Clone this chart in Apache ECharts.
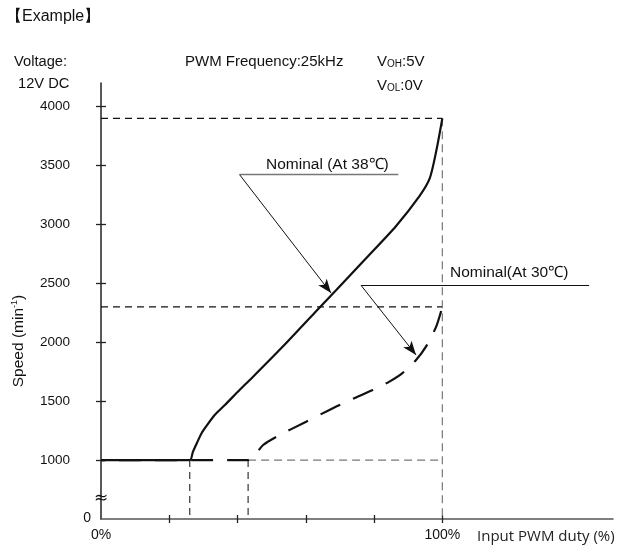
<!DOCTYPE html>
<html><head><meta charset="utf-8">
<script src="https://cdn.jsdelivr.net/npm/echarts@6/dist/echarts.min.js"></script>
<style>html,body{margin:0;padding:0;background:#fff}#c{width:619px;height:547px}</style>
</head><body><div id="c"></div>
<script>
// ---- data ----
const yTickValues = [1000, 1500, 2000, 2500, 3000, 3500, 4000];
const xTickValues = [20, 40, 60, 80, 100];
const xLabelValues = [0, 100];
const curve38 = [[0,1000],[26,1000],[26.9,1068],[28.1,1145],[29.5,1230],[31.3,1306],[33.3,1383],[36.3,1468],[40.6,1595],[44.2,1697],[53.2,1961],[62.6,2250],[69,2445],[77.8,2717],[86.4,2985],[93.3,3240],[96.3,3390],[98.2,3620],[100,3900]];
const curve30 = [[0,1000],[43.1,1000],[47.5,1128],[51.4,1198],[60.1,1326],[69.9,1468],[79.6,1595],[84.5,1666],[88.4,1740],[92.3,1850],[95.2,1963],[98.2,2133],[100,2300]];
const ref3900 = [[0,3900],[100,3900]];
const ref2300 = [[0,2300],[100,2300]];
const ref1000 = [[43.1,1000],[100,1000]];
const vref100 = [[100,3900],[100,500]];
const vref26 = [[26,1000],[26,500]];
const vref43 = [[43.1,1000],[43.1,500]];
const ann38 = {start:[40.6,3422], end:[87.1,3422], tip:[67.4,2417]};
const ann30 = {start:[76.2,2482], end:[143,2482], tip:[92.3,1892]};

const FONT = "'Liberation Sans', Arial, sans-serif";
const chart = echarts.init(document.getElementById('c'));

function refSeries(data, color, labelText, dash) {
  const d = data.map((p, i) => {
    if (labelText && i === data.length - 1) {
      return {value: p, label: {show: true, position: 'right', distance: 8, formatter: labelText,
        color: '#111', fontSize: 14, fontFamily: FONT}};
    }
    return p;
  });
  return {type: 'line', data: d, symbol: 'none', silent: true, animation: false,
    lineStyle: {color: color, width: 1.2, type: dash || [6, 4]}, z: 1};
}

const option = {
  backgroundColor: '#fff',
  animation: false,
  grid: {left: 101, right: 6, top: 83, bottom: 28},
  xAxis: [{
    type: 'value', min: 0, max: 150, interval: 10,
    axisLine: {show: true, lineStyle: {color: '#555', width: 1.6}},
    axisTick: {show: true, customValues: xTickValues, length: 4, lineStyle: {color: '#222', width: 1.3}},
    axisLabel: {show: true, customValues: xLabelValues, formatter: v => v + '%', margin: 9,
      color: '#111', fontSize: 14, fontFamily: FONT},
    splitLine: {show: false}
  }, {
    type: 'value', min: 0, max: 150, interval: 10, position: 'bottom',
    axisLine: {show: false},
    axisTick: {show: true, inside: true, customValues: xTickValues, length: 4, lineStyle: {color: '#222', width: 1.3}},
    axisLabel: {show: false}, splitLine: {show: false}
  }],
  yAxis: [{
    type: 'value', min: 500, max: 4200, interval: 500,
    axisLine: {show: true, lineStyle: {color: '#222', width: 1.5}},
    axisTick: {show: true, customValues: yTickValues, length: 5, lineStyle: {color: '#222', width: 1.3}},
    axisLabel: {show: true, customValues: yTickValues, formatter: v => String(v), margin: 31, color: '#111', fontSize: 13.5, fontFamily: FONT},
    splitLine: {show: false}
  }, {
    type: 'value', min: 500, max: 4200, interval: 500, position: 'left',
    axisLine: {show: false},
    axisTick: {show: true, inside: true, customValues: yTickValues, length: 5, lineStyle: {color: '#222', width: 1.3}},
    axisLabel: {show: false}, splitLine: {show: false}
  }],
  series: [
    refSeries(ref3900, '#111', '3900', [7, 5]),
    refSeries(ref2300, '#111', '2300', [7, 5]),
    refSeries(ref1000, '#777', '1000', [8, 5]),
    refSeries(vref100, '#777', null, [8, 5]),
    refSeries(vref26, '#333', null, [7, 5]),
    refSeries(vref43, '#333', null, [7, 5]),
    {type: 'line', data: curve30, symbol: 'none', smooth: 0.25, z: 3,
      lineStyle: {color: '#111', width: 2.2, type: [22, 14], dashOffset: 18}},
    {type: 'line', data: curve38, symbol: 'none', smooth: 0.25, z: 4,
      lineStyle: {color: '#111', width: 2.2},
      markLine: {silent: true, animation: false, symbol: ['none', 'none'], label: {show: false},
        data: [
          [{coord: ann38.start, lineStyle: {color: '#777', width: 1.4, type: 'solid'}}, {coord: ann38.end}],
          [{coord: ann30.start, lineStyle: {color: '#111', width: 1, type: 'solid'}}, {coord: ann30.end}],
          [{coord: ann38.start, symbol: 'none', lineStyle: {color: '#111', width: 1, type: 'solid'}}, {coord: ann38.tip, symbol: 'arrow', symbolSize: [8, 14]}],
          [{coord: ann30.start, symbol: 'none', lineStyle: {color: '#111', width: 1, type: 'solid'}}, {coord: ann30.tip, symbol: 'arrow', symbolSize: [8, 14]}]
        ]}}
  ],
  graphic: [
    {type: 'text', left: 6, top: 9, style: {text: '【Example】', fontSize: 16, fill: '#111', fontFamily: FONT}},
    {type: 'text', left: 14, top: 54, style: {text: 'Voltage:', fontSize: 14.7, fill: '#111', fontFamily: FONT}},
    {type: 'text', left: 18, top: 76, style: {text: '12V DC', fontSize: 14.7, fill: '#111', fontFamily: FONT}},
    {type: 'text', left: 185, top: 54, style: {text: 'PWM Frequency:25kHz', fontSize: 15, fill: '#111', fontFamily: FONT}},
    {type: 'text', left: 377, top: 54, style: {text: '{a|V}{b|OH}{a|:5V}', rich: {
      a: {fontSize: 15, fill: '#111', fontFamily: FONT, verticalAlign: 'bottom', lineHeight: 17},
      b: {fontSize: 10, fill: '#111', fontFamily: FONT, verticalAlign: 'bottom', lineHeight: 14}}}},
    {type: 'text', left: 377, top: 78, style: {text: '{a|V}{b|OL}{a|:0V}', rich: {
      a: {fontSize: 15, fill: '#111', fontFamily: FONT, verticalAlign: 'bottom', lineHeight: 17},
      b: {fontSize: 10, fill: '#111', fontFamily: FONT, verticalAlign: 'bottom', lineHeight: 14}}}},
    {type: 'text', x: 266, y: 165, style: {text: 'Nominal (At 38℃)', fontSize: 15.5, fill: '#111', fontFamily: FONT, verticalAlign: 'middle'}},
    {type: 'text', x: 450, y: 273, style: {text: 'Nominal(At 30℃)', fontSize: 15.5, fill: '#111', fontFamily: FONT, verticalAlign: 'middle'}},
    {type: 'text', x: 91, y: 518, style: {text: '0', fontSize: 14, fill: '#111', fontFamily: FONT, align: 'right', verticalAlign: 'middle'}},
    {type: 'text', x: 101, y: 499, z: 10, style: {text: '≈', fontSize: 17, fill: '#111', fontFamily: "'DejaVu Sans', sans-serif", align: 'center', verticalAlign: 'middle'}},
    {type: 'text', x: 477, y: 537, style: {text: 'Input PWM duty (%)', fontSize: 15, fill: '#222', fontFamily: "'Open Sans', sans-serif", verticalAlign: 'middle'}},
    {type: 'text', x: 19, y: 341, rotation: Math.PI / 2, style: {text: '{a|Speed (min}{s|-1}{a|)}', align: 'center', verticalAlign: 'middle', rich: {
      a: {fontSize: 15.5, fill: '#111', fontFamily: FONT, verticalAlign: 'middle', lineHeight: 18},
      s: {fontSize: 9, fill: '#111', fontFamily: FONT, verticalAlign: 'top', lineHeight: 18}}}}
  ]
};
chart.setOption(option);
</script></body></html>
